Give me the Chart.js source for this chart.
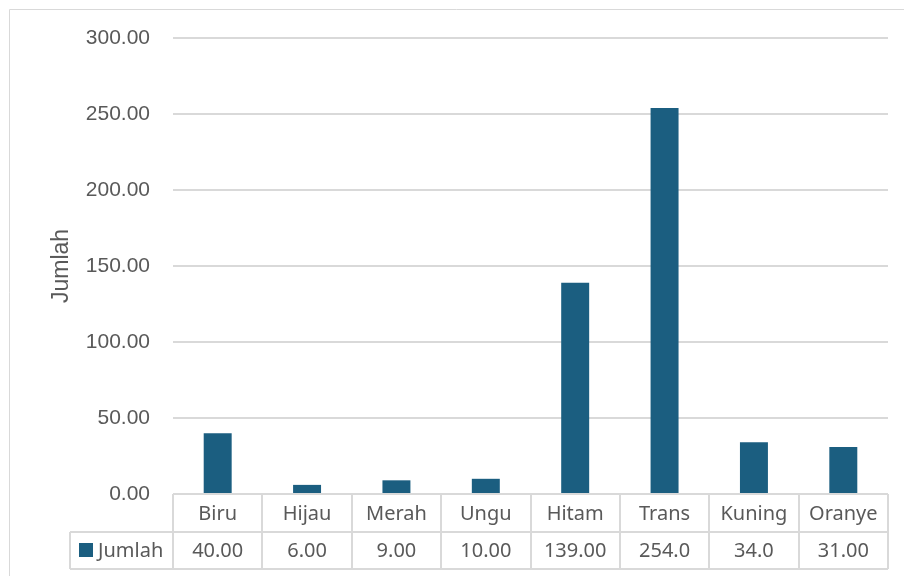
<!DOCTYPE html>
<html>
<head>
<meta charset="utf-8">
<script src="https://cdn.jsdelivr.net/npm/chart.js@4.4.1/dist/chart.umd.min.js"></script>
<style>
    html, body { margin: 0; padding: 0; background: #fff; }
    #wrap { width: 904px; height: 576px; position: relative; }
</style>
</head>
<body>
<div id="wrap"><canvas id="jumlahChart"></canvas></div>
<script>
const categories = ['Biru', 'Hijau', 'Merah', 'Ungu', 'Hitam', 'Trans', 'Kuning', 'Oranye'];
const jumlah = [40, 6, 9, 10, 139, 254, 34, 31];
// values as printed in the data table under the axis
const tableValues = ['40.00', '6.00', '9.00', '10.00', '139.00', '254.0', '34.0', '31.00'];
const seriesName = 'Jumlah';
const yMin = 0, yMax = 300, yStep = 50;

const barColor = '#1b5e80';
const lineColor = '#d9d9d9';
const textColor = '#595959';
const tableFont = '20px "Noto Sans", sans-serif';

// draws the Excel-style data table below the plot, aligned with the category slots
const dataTablePlugin = {
    id: 'dataTable',
    afterDraw(chart) {
        const { ctx, chartArea, scales: { x } } = chart;
        const n = categories.length;
        const top = chartArea.bottom;
        const mid = top + 38;
        const bottom = mid + 37;
        const legendLeft = 70;

        const edges = [chartArea.left];
        for (let i = 1; i < n; i++) {
            edges.push((x.getPixelForValue(i - 1) + x.getPixelForValue(i)) / 2);
        }
        edges.push(chartArea.right);

        ctx.save();
        ctx.strokeStyle = lineColor;
        ctx.lineWidth = 2;
        ctx.beginPath();
        ctx.moveTo(chartArea.left, top); ctx.lineTo(chartArea.right, top);
        ctx.moveTo(legendLeft, mid); ctx.lineTo(chartArea.right, mid);
        ctx.moveTo(legendLeft, bottom); ctx.lineTo(chartArea.right, bottom);
        edges.forEach(ex => {
            ctx.moveTo(Math.round(ex), top); ctx.lineTo(Math.round(ex), bottom);
        });
        ctx.moveTo(legendLeft, mid); ctx.lineTo(legendLeft, bottom);
        ctx.stroke();

        ctx.fillStyle = textColor;
        ctx.font = tableFont;
        ctx.textAlign = 'center';
        ctx.textBaseline = 'middle';
        categories.forEach((c, i) => {
            const cx = x.getPixelForValue(i);
            ctx.fillText(c, cx, (top + mid) / 2 + 1);
            ctx.fillText(tableValues[i], cx, (mid + bottom) / 2 + 1);
        });

        // legend key in the row header
        ctx.fillStyle = barColor;
        ctx.fillRect(79, 543, 14, 14);
        ctx.fillStyle = textColor;
        ctx.textAlign = 'left';
        ctx.fillText(seriesName, 98, (mid + bottom) / 2 + 1);

        // chart frame
        ctx.strokeStyle = lineColor;
        ctx.lineWidth = 1;
        ctx.beginPath();
        ctx.moveTo(9.5, chart.height); ctx.lineTo(9.5, 9.5); ctx.lineTo(chart.width, 9.5);
        ctx.stroke();
        ctx.restore();
    }
};

const ctx = document.getElementById('jumlahChart').getContext('2d');
new Chart(ctx, {
    type: 'bar',
    data: {
        labels: categories,
        datasets: [{
            label: seriesName,
            data: jumlah,
            backgroundColor: barColor,
            borderWidth: 0,
            categoryPercentage: 1,
            barPercentage: 0.313
        }]
    },
    options: {
        responsive: true,
        maintainAspectRatio: false,
        animation: false,
        layout: { padding: { top: 38, right: 16, bottom: 82, left: 0 } },
        plugins: {
            legend: { display: false },
            tooltip: { enabled: false }
        },
        scales: {
            x: { display: false },
            y: {
                min: yMin,
                max: yMax,
                afterFit(scale) { scale.width = 173; },
                border: { display: false },
                grid: { color: lineColor, lineWidth: 2, drawTicks: false },
                ticks: {
                    stepSize: yStep,
                    padding: 23,
                    color: textColor,
                    font: { family: '"Liberation Sans", Arial, sans-serif', size: 21 },
                    callback: v => v.toFixed(2)
                },
                title: {
                    display: true,
                    text: seriesName,
                    color: textColor,
                    font: { family: '"Liberation Sans", Arial, sans-serif', size: 23 },
                    padding: { top: 48, bottom: 0 }
                }
            }
        }
    },
    plugins: [dataTablePlugin]
});
</script>
</body>
</html>
